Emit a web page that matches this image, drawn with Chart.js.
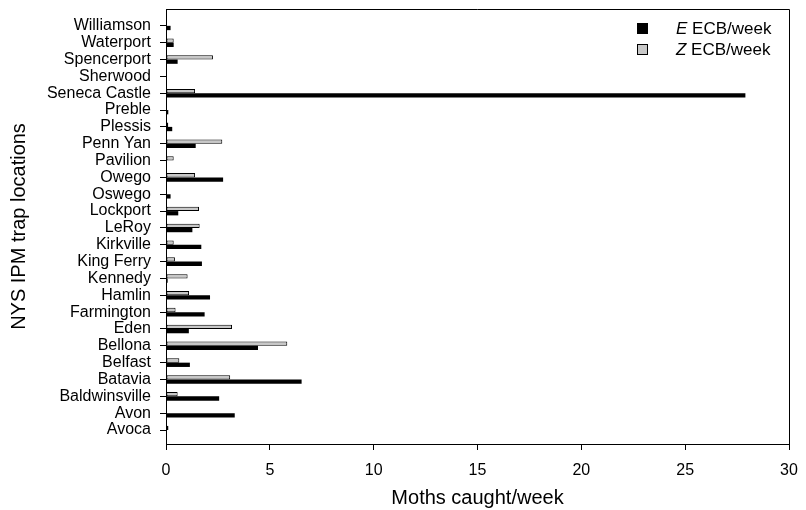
<!DOCTYPE html>
<html>
<head>
<meta charset="utf-8">
<script src="https://cdn.jsdelivr.net/npm/chart.js@4"></script>
<style>
  body { margin: 0; background: #fff; }
  #wrap { position: relative; width: 806px; height: 510px; }
  #leyenda { position: absolute; left: 637px; top: 18px; font: 17px "Liberation Sans", Arial, sans-serif; color: #000; }
  .fila { position: relative; height: 21px; line-height: 21px; }
  .caja { position: absolute; left: 0; top: 5px; width: 11px; height: 11px; box-sizing: border-box; border: 1px solid #000; }
  .txt { position: absolute; left: 39px; top: 0; white-space: nowrap; }
</style>
</head>
<body>
<div id="wrap">
  <canvas id="myChart" width="806" height="510"></canvas>
  <div id="leyenda">
    <div class="fila"><span class="caja" style="background:#000"></span><span class="txt"><i>E</i> ECB/week</span></div>
    <div class="fila"><span class="caja" style="background:#c8c8c8"></span><span class="txt"><i>Z</i> ECB/week</span></div>
  </div>
</div>
<script>
// trap locations, top to bottom
const locations = ['Williamson', 'Waterport', 'Spencerport', 'Sherwood', 'Seneca Castle', 'Preble',
  'Plessis', 'Penn Yan', 'Pavilion', 'Owego', 'Oswego', 'Lockport', 'LeRoy', 'Kirkville',
  'King Ferry', 'Kennedy', 'Hamlin', 'Farmington', 'Eden', 'Bellona', 'Belfast', 'Batavia',
  'Baldwinsville', 'Avon', 'Avoca'];

// moths caught / week
const ecbE = [0.22, 0.37, 0.56, 0, 27.9, 0.11, 0.30, 1.43, 0, 2.75, 0.22, 0.59, 1.27, 1.70,
  1.73, 0.08, 2.12, 1.86, 1.10, 4.43, 1.15, 6.53, 2.56, 3.31, 0];
const ecbZ = [0, 0.37, 2.26, 0, 1.40, 0, 0.11, 2.71, 0.37, 1.40, 0, 1.59, 1.62, 0.37,
  0.43, 1.04, 1.11, 0.46, 3.18, 5.84, 0.64, 3.09, 0.56, 0, 0.12];

const xTicks = [0, 5, 10, 15, 20, 25, 30];

const FUENTE = '"Liberation Sans", Arial, sans-serif';

// caja completa: arriba y derecha
const marco = {
  id: 'marco',
  afterDraw(chart) {
    const { ctx, chartArea: a } = chart;
    ctx.save();
    ctx.strokeStyle = '#000';
    ctx.lineWidth = 1;
    ctx.beginPath();
    ctx.moveTo(a.left, a.top + 0.5);
    ctx.lineTo(a.right + 0.5, a.top + 0.5);
    ctx.lineTo(a.right + 0.5, a.bottom);
    ctx.stroke();
    ctx.restore();
  }
};

const toPoints = (vals) => vals.map((v, i) => ({ x: v, y: i }));

const ctx = document.getElementById('myChart').getContext('2d');
const myChart = new Chart(ctx, {
  type: 'bar',
  data: {
    datasets: [
      {
        label: 'Z ECB/week',
        data: toPoints(ecbZ),
        backgroundColor: '#c8c8c8',
        borderColor: '#000',
        borderWidth: 1,
        borderSkipped: false
      },
      {
        label: 'E ECB/week',
        data: toPoints(ecbE),
        backgroundColor: '#000',
        borderWidth: 0
      }
    ]
  },
  plugins: [marco],
  options: {
    indexAxis: 'y',
    responsive: false,
    animation: false,
    categoryPercentage: 0.51,
    barPercentage: 1.0,
    layout: { padding: { left: 0, right: 17, top: 9, bottom: 0 } },
    plugins: {
      legend: { display: false },
      tooltip: { enabled: false }
    },
    scales: {
      x: {
        type: 'linear',
        min: 0,
        max: 30,
        afterBuildTicks: (s) => { s.ticks = xTicks.map((v) => ({ value: v })); },
        afterFit: (s) => {
          s.height = 66;
          s.paddingLeft = 0;
          s.paddingRight = 0;
        },
        grid: { drawOnChartArea: false, drawTicks: true, tickLength: 6, color: '#000' },
        border: { display: true, color: '#000', width: 1 },
        ticks: { color: '#000', font: { family: FUENTE, size: 16 }, padding: 11 },
        title: {
          display: true,
          text: 'Moths caught/week',
          color: '#000',
          font: { family: FUENTE, size: 20 },
          padding: { top: 0, bottom: 0 }
        }
      },
      y: {
        type: 'linear',
        reverse: true,
        offset: false,
        min: -1.0,
        max: 24.83,
        afterBuildTicks: (s) => { s.ticks = locations.map((_, i) => ({ value: i })); },
        afterFit: (s) => {
          s.width = 166;
          s.paddingTop = 0;
          s.paddingBottom = 0;
        },
        grid: { offset: false, drawOnChartArea: false, drawTicks: true, tickLength: 6, color: '#000' },
        border: { display: true, color: '#000', width: 1 },
        ticks: {
          color: '#000',
          autoSkip: false,
          font: { family: FUENTE, size: 16 },
          padding: 9,
          callback: (v) => locations[v]
        },
        title: {
          display: true,
          text: 'NYS IPM trap locations',
          color: '#000',
          font: { family: FUENTE, size: 20 },
          padding: { top: 7, bottom: 0 }
        }
      }
    }
  }
});
</script>
</body>
</html>
